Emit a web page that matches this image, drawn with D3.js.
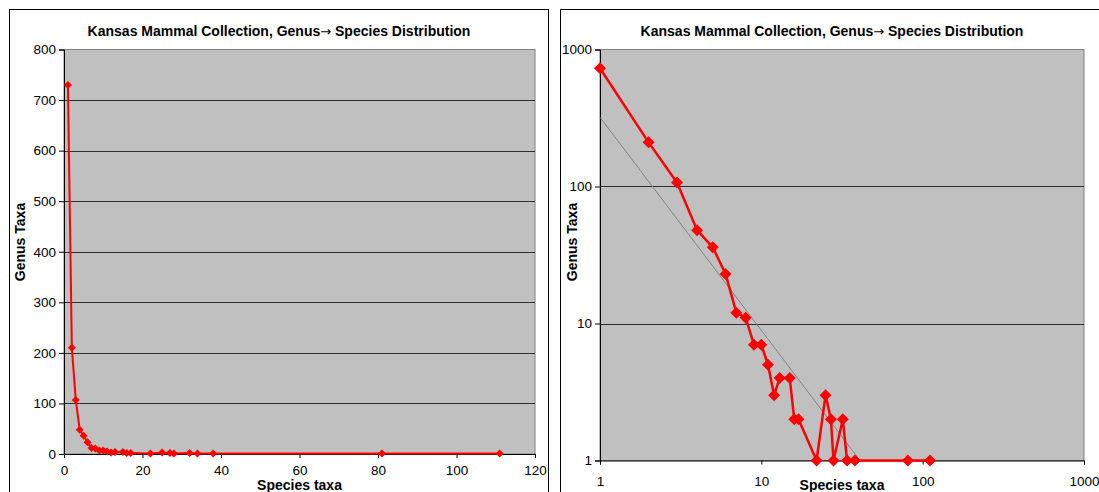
<!DOCTYPE html>
<html><head><meta charset="utf-8">
<script src="https://cdn.jsdelivr.net/npm/d3@7"></script>
<style>body{margin:0;background:#fff}svg{display:block}text{font-family:"Liberation Sans",Arial,sans-serif}</style>
</head><body>
<svg id="c" width="1099" height="492"></svg>
<script>
const speciesTaxa = [1,2,3,4,5,6,7,8,9,10,11,12,13,15,16,17,22,25,27,28,32,34,38,81,111];
const genusTaxa   = [730,210,107,48,36,23,12,11,7,7,5,3,4,4,2,2,1,3,2,1,2,1,1,1,1];
const linearXTicks = [0,20,40,60,80,100,120];
const linearYTicks = [0,100,200,300,400,500,600,700,800];
const logTicks = [1,10,100,1000];
const trendCoef = 320, trendExp = -1.555;
const titleParts = ["Kansas Mammal Collection, Genus", "\u2192", " Species Distribution"];
const xTitle = "Species taxa", yTitle = "Genus Taxa";

const svg = d3.select("#c");
svg.append("rect").attr("width",1099).attr("height",492).attr("fill","#fff");
const pts = speciesTaxa.map((s,i)=>({x:s,y:genusTaxa[i]}));

function diamond(r){return `M0,${-r}L${r},0L0,${r}L${-r},0Z`;}

function chart(o){
  const g = svg.append("g");
  g.append("rect").attr("x",o.bx+0.5).attr("y",9.5).attr("width",o.bw).attr("height",520)
    .attr("fill","#fff").attr("stroke","#000");
  const t = g.append("text").attr("x",o.tcx).attr("y",36).attr("text-anchor","middle")
    .attr("font-size",14).attr("font-weight","bold");
  t.append("tspan").text(titleParts[0]);
  t.append("tspan").style("font-family","'DejaVu Sans'").attr("font-weight","normal").attr("font-size",13).text(titleParts[1]);
  t.append("tspan").text(titleParts[2]);
  const x=o.x, y=o.y;
  const [x0,x1]=x.range(), [y1,y0]=y.range();
  g.append("rect").attr("x",x0).attr("y",y0).attr("width",x1-x0).attr("height",y1-y0)
    .attr("fill","#c0c0c0").attr("stroke","#808080");
  g.selectAll(".grid").data(o.yt.filter(v=>y(v)>y0+1 && y(v)<y1-1)).join("line")
    .attr("x1",x0).attr("x2",x1).attr("y1",d=>Math.round(y(d))+0.5).attr("y2",d=>Math.round(y(d))+0.5)
    .attr("stroke","#000").attr("stroke-opacity",0.75);
  const ya = g.append("g").attr("transform",`translate(${x0},0)`)
    .call(d3.axisLeft(y).tickValues(o.yt).tickFormat(d3.format("d")).tickSize(5).tickPadding(3));
  const xa = g.append("g").attr("transform",`translate(0,${y1})`)
    .call(d3.axisBottom(x).tickValues(o.xt).tickFormat(d3.format("d")).tickSize(4).tickPadding(o.xpad));
  [ya,xa].forEach(a=>{a.select(".domain").attr("stroke","#000");
    a.selectAll("text").attr("font-size",13.5).attr("fill","#000").style("font-family",'"Liberation Sans",Arial,sans-serif');
    a.selectAll("line").attr("stroke","#000");});
  if(o.trend){
    const tx = d3.range(0,161).map(i=>Math.pow(10,i*0.01)).filter(v=>trendCoef*Math.pow(v,trendExp)>=1);
    tx.push(Math.pow(trendCoef,-1/trendExp));
    g.append("path").datum(tx).attr("fill","none").attr("stroke","#808080").attr("stroke-width",1)
      .attr("d",d3.line().x(d=>x(d)).y(d=>y(Math.max(1,trendCoef*Math.pow(d,trendExp)))));
  }
  g.append("path").datum(pts).attr("fill","none").attr("stroke","#ff0000").attr("stroke-width",o.lw)
    .attr("stroke-linejoin","round").attr("d",d3.line().x(d=>x(d.x)).y(d=>y(d.y)));
  g.selectAll(".m").data(pts).join("path").attr("d",diamond(o.mr))
    .attr("transform",d=>`translate(${x(d.x)},${y(d.y)})`).attr("fill","#ff0000");
  g.append("text").attr("x",(x0+x1)/2).attr("y",490).attr("text-anchor","middle")
    .attr("font-size",14).attr("font-weight","bold").text(xTitle);
  g.append("text").attr("transform",`translate(${o.ytx},242) rotate(-90)`).attr("text-anchor","middle")
    .attr("font-size",14).attr("font-weight","bold").text(yTitle);
}

chart({bx:9,bw:539,tcx:279,
  x:d3.scaleLinear().domain([0,120]).range([64,535]),
  y:d3.scaleLinear().domain([0,800]).range([454,49.5]),
  xt:linearXTicks, yt:linearYTicks, xpad:7, lw:2, mr:4, ytx:25, trend:false});
chart({bx:560,bw:600,tcx:832,
  x:d3.scaleLog().domain([1,1000]).range([600,1084]),
  y:d3.scaleLog().domain([1,1000]).range([460.5,49.5]),
  xt:logTicks, yt:logTicks, xpad:12, lw:2.5, mr:6, ytx:577, trend:true});
</script>
</body></html>
